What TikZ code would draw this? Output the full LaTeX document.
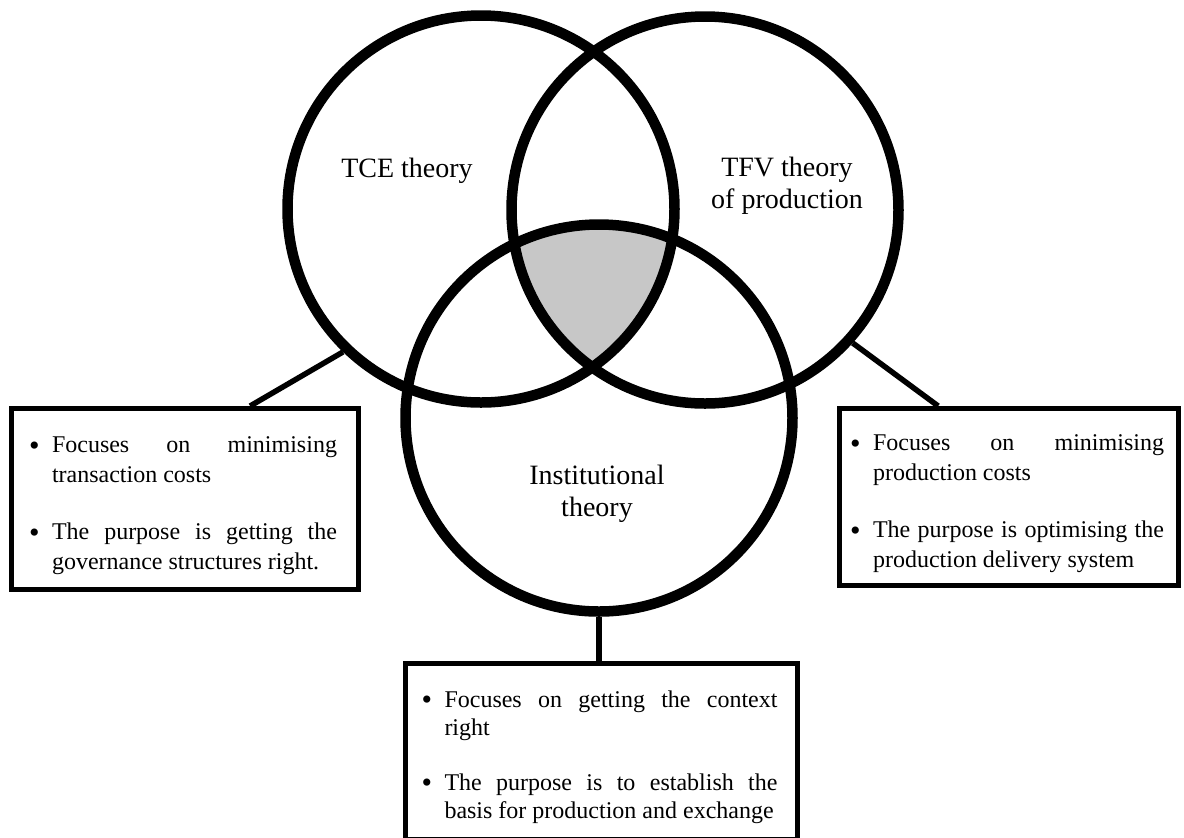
\documentclass[tikz,border=0pt]{standalone}
\usepackage{fontspec}
\setmainfont{Liberation Serif}
\usetikzlibrary{calc,backgrounds}

\newcommand{\nohyph}{\hyphenpenalty=10000 \exhyphenpenalty=10000 }
\newcommand{\bpoint}[1]{\par\noindent\hangindent=9.5pt\hangafter=1\makebox[9.5pt][l]{\hspace{-2pt}\raisebox{-1.2pt}{\fontsize{15}{15}\selectfont\textbullet}}#1\par}
\newcommand{\itemgap}{\vspace{13.5pt}}

\begin{document}
\begin{tikzpicture}[
    x=0.5pt, y=-0.5pt,
    ring/.style={circle, draw, line width=5.25pt, minimum size=193.5pt, inner sep=0pt},
    theory/.style={font=\fontsize{14}{16}\selectfont, align=center},
    infobox/.style={rectangle, draw, line width=2.5pt, align=justify, font={\fontsize{12}{15}\selectfont\nohyph}},
    link/.style={line width=2.75pt}
]
    \useasboundingbox (0,0) rectangle (1184,837);

    % The three theories
    \node[ring] (tce) at (481,209) {};
    \node[ring] (tfv) at (705,210) {};
    \node[ring] (inst) at (599,418) {};

    % Shared area
    \begin{scope}[on background layer]
        \clip (tce.center) circle[radius=96.75pt];
        \clip (tfv.center) circle[radius=96.75pt];
        \fill[black!22] (inst.center) circle[radius=96.75pt];
    \end{scope}

    \node[theory] (tcelbl) at (407,171) {TCE theory};
    \node[theory] (tfvlbl) at (787,186) {TFV theory\\of production};
    \node[theory] (instlbl) at (597,494) {Institutional\\theory};

    % Boxes
    \node[infobox, text width=152pt, minimum width=173.5pt, minimum height=90.5pt] (lbox) at (185,499)
        {\bpoint{Focuses on minimising transaction costs}\itemgap
         \bpoint{The purpose is getting the governance structures right.}};
    \node[infobox, text width=155pt, minimum width=169.5pt, minimum height=88.5pt] (rbox) at (1009,497)
        {\bpoint{Focuses on minimising production costs}\itemgap
         \bpoint{The purpose is optimising the production delivery system}};
    \node[infobox, font={\fontsize{12}{14}\selectfont\nohyph}, anchor=north, text width=176pt,
          minimum width=196pt, inner ysep=8pt] (bbox) at (601.5,661)
        {\bpoint{Focuses on getting the context right}\itemgap
         \bpoint{The purpose is to establish the basis for production and exchange}\vspace{14pt}};

    % Links
    \draw[link] (tce.226) -- ($(lbox.north west)!0.685!(lbox.north east)$);
    \draw[link] (tfv.-42) -- ($(rbox.north west)!0.294!(rbox.north east)$);
    \draw[link] (inst.south) -- (inst.south |- bbox.north);
\end{tikzpicture}
\end{document}
